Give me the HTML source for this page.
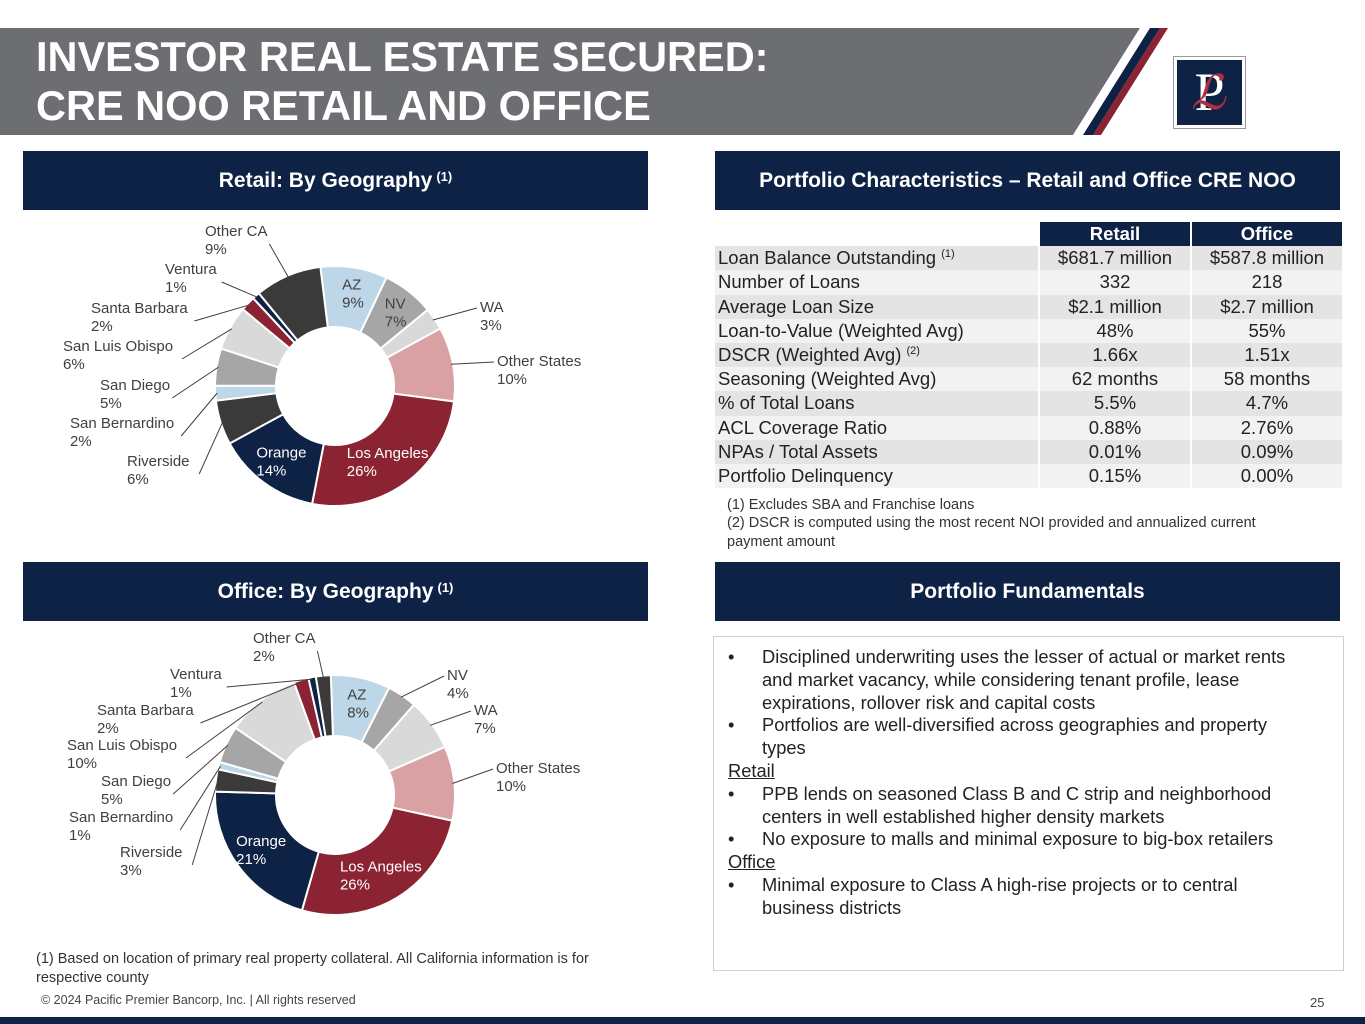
<!DOCTYPE html>
<html><head><meta charset="utf-8"><style>
*{margin:0;padding:0;box-sizing:border-box}
body{width:1365px;height:1024px;position:relative;background:#fff;font-family:"Liberation Sans",Arial,sans-serif;overflow:hidden;color:#222}
.abs{position:absolute}
.hdr{position:absolute;background:#0e2245;color:#fff;font-weight:bold;font-size:21px;display:flex;align-items:center;justify-content:center}
.hdr sup{font-size:13px;margin-left:4px;position:relative;top:-4px}
table{border-collapse:separate;border-spacing:2px 0;position:absolute;left:713px;top:222px;font-size:18.5px}
td{height:24.2px;padding:0 3px;white-space:nowrap}
td.v{text-align:center;width:150px}
tr:nth-child(odd) td{background:#f2f2f2}
tr:nth-child(even) td{background:#e4e4e4}
tr.h td{background:#0e2245;color:#fff;font-weight:bold;text-align:center}
tr.h td.blank{background:#fff}
td sup{font-size:11px}
.fund{position:absolute;left:713px;top:636px;width:631px;height:335px;border:1.5px solid #d0d0d0;padding:9px 36px 9px 14px;font-size:18.3px;line-height:22.8px;color:#222}
.fund .b{padding-left:34px;position:relative}
.fund .b:before{content:"•";position:absolute;left:0}
.fund u{display:block}
.lbl{font-size:15px;fill:#404040}
</style></head><body>
<svg class="abs" style="left:0;top:0" width="1365" height="140">
<polygon points="0,28 1140,28 1073,135 0,135" fill="#6d6e71"/>
<polygon points="1140,28 1150,28 1083,135 1073,135" fill="#fff"/>
<polygon points="1150,28 1160,28 1093,135 1083,135" fill="#0e2245"/>
<polygon points="1160,28 1168,28 1101,135 1093,135" fill="#8b2332"/>
</svg>
<div class="abs" style="left:36px;top:32px;color:#fff;font-weight:bold;font-size:41.5px;line-height:49px">INVESTOR REAL ESTATE SECURED:<br>CRE NOO RETAIL AND OFFICE</div>
<div class="abs" style="left:1173px;top:56px;width:73px;height:73px;border:1px solid #999;padding:3px;background:#fff">
<div style="width:100%;height:100%;background:#0e2245;color:#fff;font-family:'Liberation Serif',serif;font-size:54px;text-align:center;line-height:64px;position:relative">P<span style="position:absolute;left:14px;top:2px;color:#b03040;font-style:italic;font-size:48px">ℒ</span></div></div>

<div class="hdr" style="left:23px;top:151px;width:625px;height:59px">Retail: By Geography<sup>(1)</sup></div>
<div class="hdr" style="left:715px;top:151px;width:625px;height:59px">Portfolio Characteristics – Retail and Office CRE NOO</div>
<div class="hdr" style="left:23px;top:562px;width:625px;height:59px">Office: By Geography<sup>(1)</sup></div>
<div class="hdr" style="left:715px;top:562px;width:625px;height:59px">Portfolio Fundamentals</div>

<svg id="donuts" class="abs" style="left:0;top:210px" width="700" height="740"></svg>

<table>
<tr class="h"><td class="blank" style="width:323px"></td><td class="v">Retail</td><td class="v">Office</td></tr>
<tr><td>Loan Balance Outstanding <sup>(1)</sup></td><td class="v">$681.7 million</td><td class="v">$587.8 million</td></tr>
<tr><td>Number of Loans</td><td class="v">332</td><td class="v">218</td></tr>
<tr><td>Average Loan Size</td><td class="v">$2.1 million</td><td class="v">$2.7 million</td></tr>
<tr><td>Loan-to-Value (Weighted Avg)</td><td class="v">48%</td><td class="v">55%</td></tr>
<tr><td>DSCR (Weighted Avg) <sup>(2)</sup></td><td class="v">1.66x</td><td class="v">1.51x</td></tr>
<tr><td>Seasoning (Weighted Avg)</td><td class="v">62 months</td><td class="v">58 months</td></tr>
<tr><td>% of Total Loans</td><td class="v">5.5%</td><td class="v">4.7%</td></tr>
<tr><td>ACL Coverage Ratio</td><td class="v">0.88%</td><td class="v">2.76%</td></tr>
<tr><td>NPAs / Total Assets</td><td class="v">0.01%</td><td class="v">0.09%</td></tr>
<tr><td>Portfolio Delinquency</td><td class="v">0.15%</td><td class="v">0.00%</td></tr>
</table>
<div class="abs" style="left:727px;top:496px;font-size:14.5px;line-height:18.3px;color:#333;width:575px">(1) Excludes SBA and Franchise loans<br>(2) DSCR is computed using the most recent NOI provided and annualized current payment amount</div>

<div class="fund">
<div class="b">Disciplined underwriting uses the lesser of actual or market rents and market vacancy, while considering tenant profile, lease expirations, rollover risk and capital costs</div>
<div class="b">Portfolios are well-diversified across geographies and property types</div>
<u>Retail</u>
<div class="b">PPB lends on seasoned Class B and C strip and neighborhood centers in well established higher density markets</div>
<div class="b">No exposure to malls and minimal exposure to big-box retailers</div>
<u>Office</u>
<div class="b">Minimal exposure to Class A high-rise projects or to central business districts</div>
</div>

<div class="abs" style="left:36px;top:950px;font-size:14.5px;line-height:18.5px;color:#333;width:590px">(1)&nbsp;Based on location of primary real property collateral. All California information is for respective county</div>
<div class="abs" style="left:41px;top:993px;font-size:12.5px;color:#444">© 2024 Pacific Premier Bancorp, Inc. | All rights reserved</div>
<div class="abs" style="left:1310px;top:995px;font-size:13px;color:#444">25</div>
<div class="abs" style="left:0;top:1017px;width:1365px;height:7px;background:#0e2245"></div>

<script>
const categories=["AZ","NV","WA","Other States","Los Angeles","Orange","Riverside","San Bernardino","San Diego","San Luis Obispo","Santa Barbara","Ventura","Other CA"];
const retailValues=[9,7,3,10,26,14,6,2,5,6,2,1,9];
const officeValues=[8,4,7,10,26,21,3,1,5,10,2,1,2];
const colors=["#bdd7e8","#a6a6a6","#d9d9d9","#d9a1a3","#8b2332","#0e2245","#3a3a3a","#bdd7e8","#a6a6a6","#d9d9d9","#8b2332","#0e2245","#3a3a3a"];
const inside=[true,true,false,false,true,true,false,false,false,false,false,false,false];
const retailLabelPos=[null,[447,272],[480,312],[497,366],null,null,[127,466],[70,428],[100,390],[63,351],[91,313],[165,274],[205,236]];
const officeLabelPos=[null,[447,680],[474,715],[496,773],null,null,[120,857],[69,822],[101,786],[67,750],[97,715],[170,679],[253,643]];
const svg=document.getElementById('donuts');
const NS="http://www.w3.org/2000/svg";
function mk(t,a){const e=document.createElementNS(NS,t);for(const k in a)e.setAttribute(k,a[k]);return e;}
function pt(cx,cy,r,a){return [cx+r*Math.sin(a),cy-r*Math.cos(a)];}
function donut(vals,cx,cy,start,lp,name){
  const R=120,r=59,tot=vals.reduce((a,b)=>a+b,0);let a=start;
  vals.forEach((v,i)=>{
    const a2=a+v/tot*2*Math.PI,lg=(a2-a)>Math.PI?1:0;
    const p1=pt(cx,cy,R,a),p2=pt(cx,cy,R,a2),p3=pt(cx,cy,r,a2),p4=pt(cx,cy,r,a);
    const p=mk('path',{d:`M${p1}A${R},${R} 0 ${lg} 1 ${p2}L${p3}A${r},${r} 0 ${lg} 0 ${p4}Z`,fill:colors[i],stroke:'#fff','stroke-width':2});
    
    
    svg.appendChild(p);
    const m=(a+a2)/2;
    if(inside[i] && v>=5){
      const c=pt(cx,cy,(R+r)/2+4,m);
      const dark=(i===4||i===5);
      const w=categories[i].length*7.8;
      const x0=c[0]-w/2;
      const t=mk('text',{x:x0,y:c[1]-4,'font-size':15,fill:dark?'#fff':'#404040'});
      
      
      const s1=mk('tspan',{x:x0});s1.textContent=categories[i];
      const s2=mk('tspan',{x:x0,dy:18});s2.textContent=v+'%';
      t.appendChild(s1);t.appendChild(s2);svg.appendChild(t);
    } else if(lp[i]){
      const [lx,ly]=[lp[i][0],lp[i][1]-210];const right=lx>cx;
      const e=pt(cx,cy,R-2,m);
      const tw=categories[i].length*7.8;
      const sx=right?lx-3:lx+tw+2, sy=ly-4+ (right?0:12);
      const l=mk('line',{x1:e[0],y1:e[1],x2:sx,y2:sy,stroke:'#404040','stroke-width':1});
      
      
      svg.appendChild(l);
      const t=mk('text',{class:'lbl',x:lx,y:ly});
      
      
      const s1=mk('tspan',{x:lx});s1.textContent=categories[i];
      const s2=mk('tspan',{x:lx,dy:18});s2.textContent=v+'%';
      t.appendChild(s1);t.appendChild(s2);svg.appendChild(t);
    }
    a=a2;
  });
}
donut(retailValues,335,176,-7*Math.PI/180,retailLabelPos,'retail');
donut(officeValues,335,585,-2*Math.PI/180,officeLabelPos,'office');
</script>
</body></html>
